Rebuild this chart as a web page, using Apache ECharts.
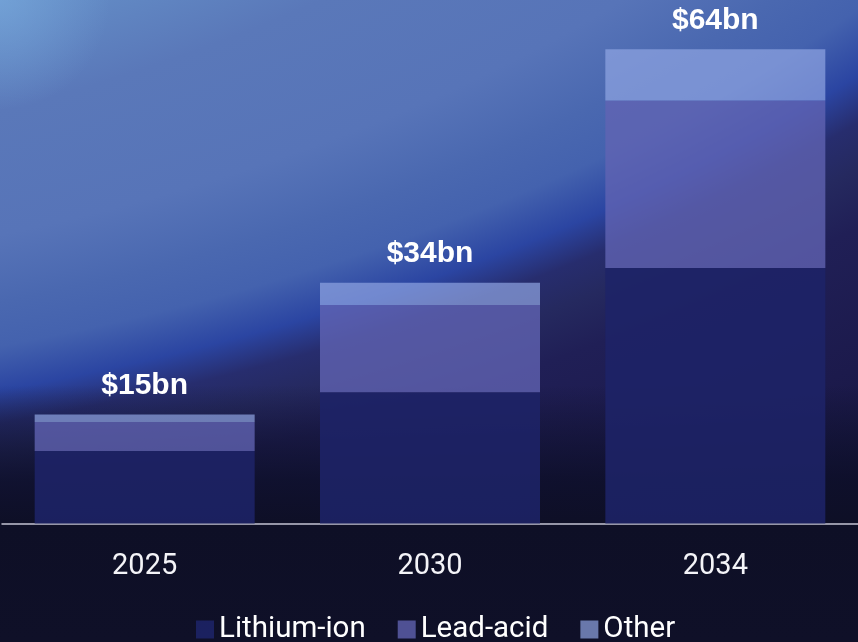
<!DOCTYPE html>
<html>
<head>
<meta charset="utf-8">
<script src="https://cdn.jsdelivr.net/npm/echarts@6/dist/echarts.min.js"></script>
<style>
  html, body { margin: 0; padding: 0; background: #0f1028; }
  #chart {
    width: 858px; height: 642px;
    background:
      radial-gradient(circle at 0px 0px, rgba(125,175,225,0.55) 0px, rgba(125,175,225,0) 110px),
      linear-gradient(to bottom, rgba(12,14,38,0) 0px, rgba(12,14,38,0) 385px, rgba(12,14,38,0.35) 425px, rgba(12,14,38,0.8) 480px, rgba(14,15,38,1) 525px, #0f1028 642px),
      radial-gradient(ellipse 1913px 1043px at -600px -600px,
        #6590c8 65%, #5a78b9 75%, #5774b8 86%, #4a68b0 92%, #4462ae 96%, #2b45a2 100%,
        #272d6e 103%, #25295f 106%, #201f56 110%, #1c1a4c 120%, #16163e 130%, #121236 145%);
  }
</style>
</head>
<body>
<div id="chart"></div>
<script>
const categories = ['2025', '2030', '2034'];
const lithiumIon = [9.8, 17.7, 34.5];
const leadAcid = [3.9, 11.8, 22.6];
const other = [1.0, 3.0, 6.9];
const totalLabels = ['$15bn', '$34bn', '$64bn'];
const seriesNames = ['Lithium-ion', 'Lead-acid', 'Other'];

const chart = echarts.init(document.getElementById('chart'), null, { renderer: 'canvas' });

const option = {
  backgroundColor: 'transparent',
  animation: false,
  grid: { left: 2, right: -2, top: 49.3, bottom: 118.5, containLabel: false },
  legend: {
    left: 191,
    top: 609.5,
    itemWidth: 18,
    itemHeight: 18,
    itemGap: 32,
    icon: 'rect',
    textStyle: { color: '#ffffff', fontSize: 29.5, fontFamily: 'Roboto' },
    data: seriesNames
  },
  xAxis: {
    type: 'category',
    data: categories,
    axisLine: { show: true, lineStyle: { color: '#c4c4d4', width: 1.5 } },
    axisTick: { show: false },
    axisLabel: { color: '#f4f4f8', fontSize: 29, fontFamily: 'Roboto', margin: 29 }
  },
  yAxis: {
    type: 'value',
    min: 0,
    max: 64,
    show: false,
    splitLine: { show: false }
  },
  series: [
    {
      name: seriesNames[0], type: 'bar', stack: 'total', barWidth: 220,
      itemStyle: { color: 'rgba(30,35,104,0.88)' },
      data: lithiumIon
    },
    {
      name: seriesNames[1], type: 'bar', stack: 'total', barWidth: 220,
      itemStyle: { color: 'rgba(98,100,180,0.78)' },
      data: leadAcid
    },
    {
      name: seriesNames[2], type: 'bar', stack: 'total', barWidth: 220,
      itemStyle: { color: 'rgba(144,165,227,0.7)' },
      label: {
        show: true,
        position: 'top',
        distance: 14,
        color: '#ffffff',
        fontSize: 30,
        fontWeight: 'bold',
        fontFamily: 'Liberation Sans, Arial, sans-serif',
        formatter: function (p) { return totalLabels[p.dataIndex]; }
      },
      data: other
    }
  ]
};
chart.setOption(option);
</script>
</body>
</html>
